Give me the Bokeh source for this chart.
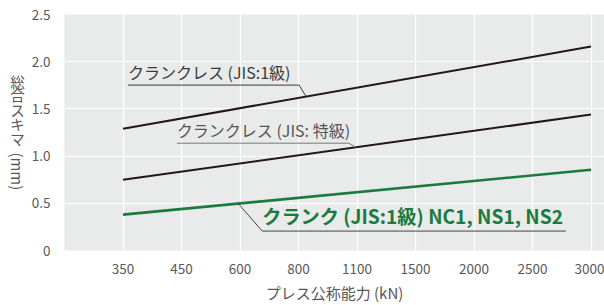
from bokeh.plotting import figure
from bokeh.layouts import row
from bokeh.models import FixedTicker, NumeralTickFormatter
from bokeh.core.properties import value
from bokeh.embed import file_html
from bokeh.resources import INLINE
import numpy as np

# ---- data ----
capacity = ["350", "450", "600", "800", "1100", "1500", "2000", "2500", "3000"]
line_ends = ["350", "3000"]
crankless_jis1 = [1.29, 2.16]
crankless_special = [0.75, 1.44]
crank_jis1 = [0.38, 0.855]
y_ticks = [0, 0.5, 1.0, 1.5, 2.0, 2.5]

label_jis1 = "クランクレス (JIS:1級)"
label_special = "クランクレス (JIS: 特級)"
label_crank = "クランク (JIS:1級) NC1, NS1, NS2"
x_title = "プレス公称能力 (kN)"
y_title_chars = ["総", "合", "ス", "キ", "マ"]
y_title_unit = "(mm)"

FONT = "Noto Sans CJK JP"
idx = {c: i for i, c in enumerate(capacity)}
xe = [idx[c] for c in line_ends]

LEFT_W = 28
FRAME_TOP, FRAME_BOTTOM = 14, 257
p = figure(width=604 - LEFT_W, height=305, x_range=(-1, 8.23), y_range=(0, 2.5),
           output_backend="svg", toolbar_location=None,
           min_border_left=64 - LEFT_W, min_border_right=0,
           min_border_top=FRAME_TOP, min_border_bottom=305 - FRAME_BOTTOM)
p.background_fill_color = "#e9eaea"
p.border_fill_color = "white"
p.outline_line_color = None

# axes
p.xaxis.ticker = FixedTicker(ticks=list(range(len(capacity))))
p.xaxis.major_label_overrides = {i: c for i, c in enumerate(capacity)}
p.yaxis.ticker = FixedTicker(ticks=y_ticks)
p.yaxis.formatter = NumeralTickFormatter(format="0.0")
p.yaxis.major_label_overrides = {0: "0"}
for ax in (p.xaxis, p.yaxis):
    ax.axis_line_color = None
    ax.major_tick_line_color = None
    ax.minor_tick_line_color = None
    ax.major_label_text_font = FONT
    ax.major_label_text_font_size = "13.5px"
    ax.major_label_text_color = "#595757"
p.xaxis.major_label_standoff = 7
p.yaxis.major_label_standoff = 8
p.xaxis.axis_label = x_title
p.xaxis.axis_label_text_font = FONT
p.xaxis.axis_label_text_font_size = "15px"
p.xaxis.axis_label_text_font_style = "normal"
p.xaxis.axis_label_text_color = "#595757"
p.xaxis.axis_label_standoff = 5

# grids
p.xgrid.ticker = FixedTicker(ticks=list(range(len(capacity))))
p.ygrid.ticker = FixedTicker(ticks=y_ticks)
for g in (p.xgrid, p.ygrid):
    g.grid_line_color = "white"
    g.grid_line_width = 1.2

# series
p.line(xe, crankless_jis1, line_color="#231815", line_width=2)
p.line(xe, crankless_special, line_color="#231815", line_width=2)
p.line(xe, crank_jis1, line_color="#1b7a3e", line_width=2.6)

def on_line(x, series):
    return float(np.interp(x, xe, series))

def yv(py):  # canvas pixel -> data value helper for annotation placement
    return (FRAME_BOTTOM - py) / 97.2

# leader lines + labels
p.line([0.085, 3.01, 3.13], [yv(86.7)] * 2 + [on_line(3.13, crankless_jis1)],
       line_color="#3a3a3a", line_width=1)
p.text(x=[0.085], y=[yv(85.5)], text=[label_jis1], text_font=value(FONT),
       text_font_size="16px", text_color="#3a3a3a",
       text_baseline="bottom", text_align="left")

p.line([0.92, 3.86, 3.98], [yv(146.5)] * 2 + [on_line(3.98, crankless_special)],
       line_color="#777777", line_width=1)
p.text(x=[0.92], y=[yv(145.3)], text=[label_special], text_font=value(FONT),
       text_font_size="16px", text_color="#555555",
       text_baseline="bottom", text_align="left")

p.line([1.97, 2.38, 7.57], [on_line(1.97, crank_jis1), yv(237), yv(237)],
       line_color="#444444", line_width=1)
p.text(x=[2.38], y=[yv(235.5)], text=[label_crank], text_font=value(FONT),
       text_font_size="19.2px", text_font_style="bold", text_color="#1b7a3e",
       text_baseline="bottom", text_align="left")

# vertical y-axis title panel (upright kana/kanji, rotated "(mm)")
# its frame is aligned with the main frame (rows align frames), so use
# canvas-pixel-like units over the frame span
q = figure(width=LEFT_W, height=305, x_range=(0, LEFT_W),
           y_range=(FRAME_BOTTOM, FRAME_TOP),
           output_backend="svg", toolbar_location=None,
           min_border_left=0, min_border_right=0,
           min_border_top=FRAME_TOP, min_border_bottom=305 - FRAME_BOTTOM)
q.axis.visible = False
q.grid.visible = False
q.outline_line_color = None
q.background_fill_color = "white"
q.border_fill_color = "white"
q.text(x=[17] * len(y_title_chars), y=[82.5, 96.5, 111.5, 126.5, 141.5],
       text=y_title_chars, text_font=value(FONT), text_font_size="14.5px",
       text_color="#595757", text_align="center", text_baseline="middle")
q.text(x=[17], y=[175.5], text=[y_title_unit], text_font=value(FONT),
       text_font_size="15px", text_color="#595757", text_align="center",
       text_baseline="middle", angle=-np.pi / 2)

layout = row(q, p, spacing=0)
open("out.html", "w").write(file_html(layout, INLINE))
